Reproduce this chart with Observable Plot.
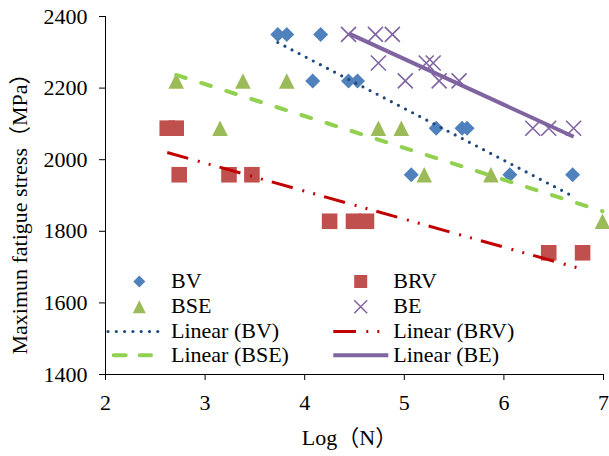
<!DOCTYPE html>
<html><head><meta charset="utf-8">
<script src="https://cdn.jsdelivr.net/npm/d3@7"></script>
<script src="https://cdn.jsdelivr.net/npm/@observablehq/plot@0.6"></script>
<style>body{margin:0;background:#fff}</style>
</head><body><div id="chart"></div>
<script>
// ---- data ----
const xTicks = [2, 3, 4, 5, 6, 7];
const yTicks = [1400, 1600, 1800, 2000, 2200, 2400];
const xLabel = "Log（N）";
const yLabel = "Maximun fatigue stress（MPa）";

const bvX = [3.73, 3.82, 4.16, 4.08, 4.44, 4.53, 5.32, 5.58, 5.63, 5.07, 6.06, 6.69];
const bvY = [2350, 2350, 2350, 2220, 2220, 2220, 2088, 2088, 2088, 1958, 1958, 1958];

const brvX = [2.62, 2.71, 2.74, 3.24, 3.47, 4.25, 4.49, 4.62, 6.45, 6.79];
const brvY = [2088, 2088, 1958, 1958, 1958, 1828, 1828, 1828, 1740, 1740];

const bseX = [2.71, 3.38, 3.82, 3.15, 4.74, 4.97, 5.20, 5.87, 6.99];
const bseY = [2220, 2220, 2220, 2088, 2088, 2088, 1958, 1958, 1828];

const beX = [4.44, 4.71, 4.88, 4.74, 5.22, 5.29, 5.01, 5.35, 5.55, 6.29, 6.45, 6.70];
const beY = [2350, 2350, 2350, 2270, 2270, 2270, 2220, 2220, 2220, 2088, 2088, 2088];

// ---- symbols (size = r*r*PI) ----
const rad = (size) => Math.sqrt(size / Math.PI);
const diamond = {draw(c, size) { const r = rad(size); c.moveTo(0, -r); c.lineTo(r, 0); c.lineTo(0, r); c.lineTo(-r, 0); c.closePath(); }};
const triangle = {draw(c, size) { const r = rad(size); c.moveTo(0, -r); c.lineTo(r, r); c.lineTo(-r, r); c.closePath(); }};
const square = {draw(c, size) { const r = rad(size); c.moveTo(-r, -r); c.lineTo(r, -r); c.lineTo(r, r); c.lineTo(-r, r); c.closePath(); }};
const cross = {draw(c, size) { const r = rad(size); c.moveTo(-r, -r); c.lineTo(r, r); c.moveTo(-r, r); c.lineTo(r, -r); }};

const series = [
  {name: "BV", xs: bvX, ys: bvY, symbol: diamond, r: 7.5, lr: 6, color: "#4F81BD", filled: true,
   trend: {stroke: "#1F497D", strokeWidth: 3.2, strokeDasharray: "0 8", strokeLinecap: "round"}},
  {name: "BRV", xs: brvX, ys: brvY, symbol: square, r: 7.8, lr: 6.5, color: "#C0504D", filled: true,
   trend: {stroke: "#C00000", strokeWidth: 3, strokeDasharray: "21.7 10 2 9.3 2 9.3", strokeLinecap: "butt"}},
  {name: "BSE", xs: bseX, ys: bseY, symbol: triangle, r: 7.8, lr: 6.5, color: "#9BBB59", filled: true,
   trend: {stroke: "#92D050", strokeWidth: 4, strokeDasharray: "10 16.3", strokeLinecap: "round"}},
  {name: "BE", xs: beX, ys: beY, symbol: cross, r: 7.5, lr: 6.5, color: "#8064A2", filled: false,
   trend: {stroke: "#8064A2", strokeWidth: 4, strokeLinecap: "butt"}}
];
series.forEach(s => s.rows = s.xs.map((x, i) => ({x, y: s.ys[i]})));

const FONT = "'Liberation Serif', 'Times New Roman', 'Noto Sans CJK SC', serif";

const dotMarks = series.map(s => Plot.dot(s.rows, {
  x: "x", y: "y", symbol: s.symbol, r: s.r,
  fill: s.filled ? s.color : "none",
  stroke: s.filled ? "none" : s.color,
  strokeWidth: s.filled ? 0 : 1.6
}));
const trendMarks = series.map(s => Plot.linearRegressionY(s.rows, {x: "x", y: "y", ci: 0, ...s.trend}));

const chart = Plot.plot({
  width: 609, height: 456,
  marginLeft: 105, marginRight: 6, marginTop: 16, marginBottom: 82,
  style: {fontFamily: FONT, fontSize: "22px", background: "white", color: "black"},
  x: {domain: [2, 7]},
  y: {domain: [1400, 2400]},
  marks: [
    Plot.axisY({ticks: yTicks, tickSize: 6, tickPadding: 12, tickFormat: d => String(d), label: null}),
    Plot.axisX({ticks: xTicks, tickSize: 6, tickPadding: 14, tickFormat: d => String(d), label: null}),
    Plot.ruleX([2], {stroke: "black"}),
    Plot.ruleY([1400], {stroke: "black"}),
    ...dotMarks,
    ...trendMarks,
    Plot.text([xLabel], {frameAnchor: "bottom", textAnchor: "middle", lineAnchor: "middle", dx: -5, dy: 63, fontSize: 22, fill: "black"}),
    Plot.text([yLabel], {frameAnchor: "left", textAnchor: "middle", lineAnchor: "middle", rotate: -90, dx: -86, dy: 13, fontSize: 22, fill: "black"})
  ]
});
document.getElementById("chart").appendChild(chart);

// ---- legend (inside plot area, two columns) ----
const svg = d3.select(chart);
const lg = svg.append("g").attr("font-family", FONT).attr("font-size", 22)
  .attr("fill", "black").attr("text-anchor", "start");
const colSym = [139.3, 360.7], colText = [171, 393.3], rowY = [281.5, 306.7, 331.5, 355.3];
const legendOrder = [series[0], series[1], series[2], series[3]];
legendOrder.forEach((s, i) => {
  const col = i % 2, row = Math.floor(i / 2);
  const y = rowY[row];
  lg.append("path")
    .attr("transform", `translate(${colSym[col]},${y})`)
    .attr("d", d3.symbol(s.symbol, s.lr * s.lr * Math.PI)())
    .attr("fill", s.filled ? s.color : "none")
    .attr("stroke", s.filled ? "none" : s.color)
    .attr("stroke-width", s.filled ? 0 : 1.5);
  lg.append("text").attr("x", colText[col]).attr("y", y).attr("dy", "0.3em")
    .attr("text-anchor", "start").text(s.name);
});
const legendLines = [
  {s: series[0], x1: 108, x2: 160, dash: "0 8.3", cap: "round"},
  {s: series[1], x1: 333.3, x2: 381, dash: "22.7 10.3 2 9 2 100", cap: "butt"},
  {s: series[2], x1: 113.7, x2: 151, dash: "12 14", cap: "round"},
  {s: series[3], x1: 333.3, x2: 388.3, dash: null, cap: "butt"}
];
legendLines.forEach((d, i) => {
  const col = i % 2, row = 2 + Math.floor(i / 2);
  const y = rowY[row];
  const ln = lg.append("line").attr("x1", d.x1).attr("x2", d.x2).attr("y1", y).attr("y2", y)
    .attr("stroke", d.s.trend.stroke).attr("stroke-width", d.s.trend.strokeWidth)
    .attr("stroke-linecap", d.cap);
  if (d.dash) ln.attr("stroke-dasharray", d.dash);
  lg.append("text").attr("x", colText[col]).attr("y", y).attr("dy", "0.3em")
    .attr("text-anchor", "start").text(`Linear (${d.s.name})`);
});
</script>
</body></html>
